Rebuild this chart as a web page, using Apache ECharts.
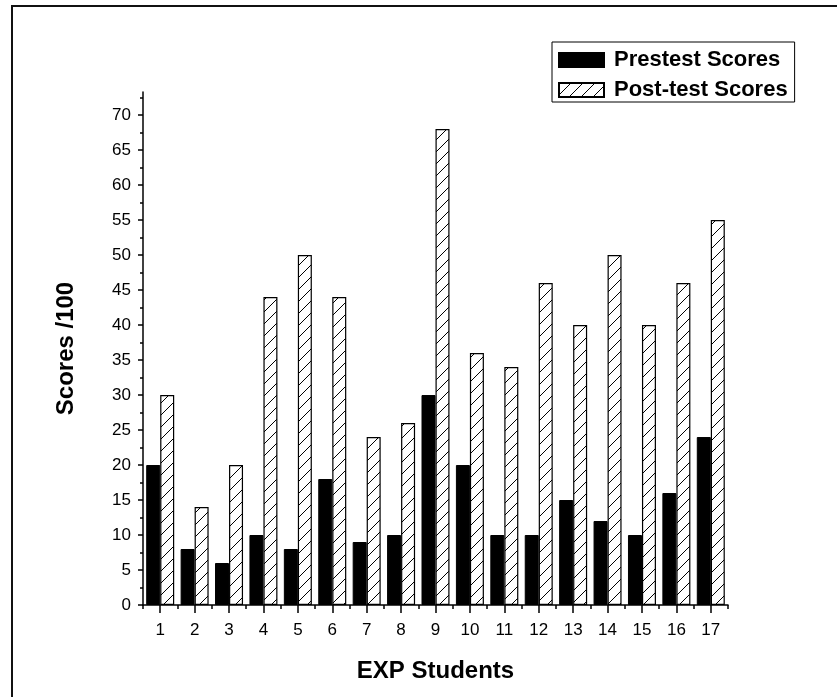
<!DOCTYPE html>
<html>
<head>
<meta charset="utf-8">
<script src="https://cdn.jsdelivr.net/npm/echarts@6/dist/echarts.min.js"></script>
<style>
  html, body { margin: 0; padding: 0; background: #fff; }
  #chart { width: 837px; height: 697px; }
</style>
</head>
<body>
<div id="chart"></div>
<script>
// Students (x categories) and their scores out of 100
const students = ['1','2','3','4','5','6','7','8','9','10','11','12','13','14','15','16','17'];
const pretestScores  = [20, 8, 6, 10, 8, 18, 9, 10, 30, 20, 10, 10, 15, 12, 10, 16, 24];
const posttestScores = [30, 14, 20, 44, 50, 44, 24, 26, 68, 36, 34, 46, 40, 50, 40, 46, 55];

// Value-axis tick positions
const yMajorTicks = [0, 5, 10, 15, 20, 25, 30, 35, 40, 45, 50, 55, 60, 65, 70];
const yMinorTicks = [2.5, 7.5, 12.5, 17.5, 22.5, 27.5, 32.5, 37.5, 42.5, 47.5, 52.5, 57.5, 62.5, 67.5, 72.5];

const FONT = '"Liberation Sans", Arial, sans-serif';

// Diagonal "/" hatch fill for the post-test bars
function makeHatch() {
  const s = 12;
  const c = document.createElement('canvas');
  c.width = s; c.height = s;
  const g = c.getContext('2d');
  g.fillStyle = '#fff';
  g.fillRect(0, 0, s, s);
  g.strokeStyle = '#000';
  g.lineWidth = 1;
  g.beginPath();
  g.moveTo(0, s); g.lineTo(s, 0);
  g.moveTo(-2, 2); g.lineTo(2, -2);
  g.moveTo(s - 2, s + 2); g.lineTo(s + 2, s - 2);
  g.stroke();
  return c;
}
const hatch = { image: makeHatch(), repeat: 'repeat' };

const chart = echarts.init(document.getElementById('chart'), null, { renderer: 'canvas' });

chart.setOption({
  backgroundColor: '#fff',
  animation: false,
  textStyle: { fontFamily: FONT, color: '#000' },
  graphic: [{
    type: 'rect',
    shape: { x: 12, y: 6, width: 1000, height: 1000 },
    style: { fill: 'none', stroke: '#111', lineWidth: 2 },
    silent: true
  }],
  legend: {
    orient: 'vertical',
    left: 552,
    top: 42,
    padding: [7, 7, 1, 6],
    itemGap: 8,
    itemWidth: 45,
    itemHeight: 14,
    borderColor: '#000',
    borderWidth: 1,
    backgroundColor: '#fff',
    textStyle: { fontFamily: FONT, fontWeight: 'bold', fontSize: 22, color: '#000', lineHeight: 22, padding: [0, 0, 0, 5] },
    data: [
      { name: 'Prestest Scores', icon: 'rect' },
      { name: 'Post-test Scores', icon: 'rect' }
    ]
  },
  grid: { left: 143, right: 109, top: 92, bottom: 92, containLabel: false },
  xAxis: [{
    type: 'category',
    data: students,
    boundaryGap: true,
    position: 'bottom',
    name: 'EXP Students',
    nameLocation: 'middle',
    nameGap: 54,
    nameTextStyle: { fontFamily: FONT, fontWeight: 'bold', fontSize: 24, color: '#000' },
    axisLine: { show: true, lineStyle: { color: '#000', width: 1.5 } },
    axisTick: { show: true, alignWithLabel: true, length: 8, lineStyle: { color: '#000', width: 1.5 } },
    axisLabel: { interval: 0, margin: 17, fontFamily: FONT, fontSize: 17, color: '#000' },
    splitLine: { show: false }
  }, {
    type: 'category',
    data: students,
    boundaryGap: true,
    position: 'bottom',
    axisLine: { show: false },
    axisTick: { show: true, length: 4, interval: 0, lineStyle: { color: '#000', width: 1.5 } },
    axisLabel: { show: false },
    splitLine: { show: false }
  }],
  yAxis: [{
    type: 'value',
    min: 0,
    max: 73.3,
    interval: 5,
    position: 'left',
    name: 'Scores /100',
    nameLocation: 'middle',
    nameGap: 65,
    nameRotate: 90,
    nameTextStyle: { fontFamily: FONT, fontWeight: 'bold', fontSize: 24, color: '#000' },
    axisLine: { show: true, lineStyle: { color: '#000', width: 1.5 } },
    axisTick: { show: true, length: 5, customValues: yMajorTicks, lineStyle: { color: '#000', width: 1.5 } },
    axisLabel: { margin: 12, customValues: yMajorTicks, fontFamily: FONT, fontSize: 17, color: '#000' },
    splitLine: { show: false }
  }, {
    type: 'value',
    min: 0,
    max: 73.3,
    interval: 5,
    position: 'left',
    offset: 0,
    axisLine: { show: false },
    axisTick: { show: true, length: 3, customValues: yMinorTicks, lineStyle: { color: '#000', width: 1.5 } },
    axisLabel: { show: false },
    splitLine: { show: false }
  }],
  series: [{
    name: 'Prestest Scores',
    type: 'bar',
    xAxisIndex: 0,
    yAxisIndex: 0,
    data: pretestScores,
    barWidth: 14,
    barGap: '0%',
    itemStyle: { color: '#000', borderColor: '#000', borderWidth: 1 }
  }, {
    name: 'Post-test Scores',
    type: 'bar',
    xAxisIndex: 0,
    yAxisIndex: 0,
    data: posttestScores,
    barWidth: 14,
    barGap: '0%',
    itemStyle: { color: hatch, borderColor: '#000', borderWidth: 1.2 }
  }]
});
</script>
</body>
</html>
